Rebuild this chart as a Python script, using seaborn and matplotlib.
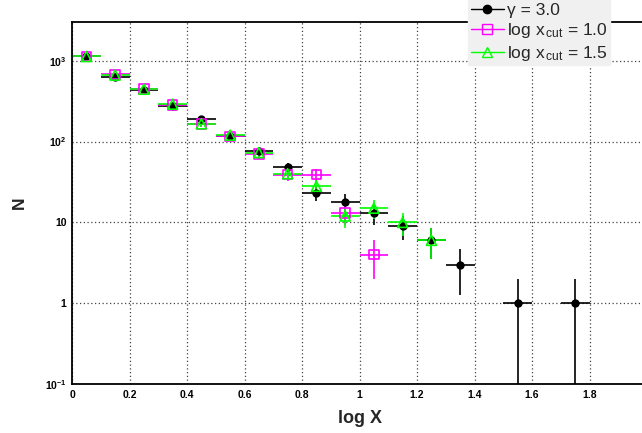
import numpy as np
import pandas as pd
import matplotlib
matplotlib.use("Agg")
import matplotlib.pyplot as plt
import seaborn as sns
from matplotlib.ticker import MultipleLocator, LogLocator, FixedLocator, FixedFormatter, NullFormatter
from matplotlib.lines import Line2D

# ---- data ----
x_gamma = [0.05, 0.15, 0.25, 0.35, 0.45, 0.55, 0.65, 0.75, 0.85, 0.95, 1.05, 1.15, 1.25, 1.35, 1.55, 1.75]
n_gamma = [1130, 635, 440, 275, 190, 116, 77, 48, 23, 18, 13, 9, 6, 3, 1, 1]

x_cut10 = [0.05, 0.15, 0.25, 0.35, 0.45, 0.55, 0.65, 0.75, 0.85, 0.95, 1.05]
n_cut10 = [1130, 680, 445, 285, 166, 116, 70, 39, 39, 13, 4]

x_cut15 = [0.05, 0.15, 0.25, 0.35, 0.45, 0.55, 0.65, 0.75, 0.85, 0.95, 1.05, 1.15, 1.25]
n_cut15 = [1130, 665, 445, 290, 166, 120, 73, 40, 28, 12, 15, 10, 6]

bin_half_width = 0.05
labels = ["γ = 3.0", "log x$_{\\,\\mathrm{cut}}$ = 1.0", "log x$_{\\,\\mathrm{cut}}$ = 1.5"]
y_tick_vals = [0.1, 1, 10, 100, 1000]
y_tick_labels = ["$\\mathbf{10^{-1}}$", "1", "10", "$\\mathbf{10^{2}}$", "$\\mathbf{10^{3}}$"]
x_tick_vals = [0, 0.2, 0.4, 0.6, 0.8, 1.0, 1.2, 1.4, 1.6, 1.8]
x_tick_labels = ["0", "0.2", "0.4", "0.6", "0.8", "1", "1.2", "1.4", "1.6", "1.8"]

sns.set_style("white")
plt.rcParams["font.family"] = ["Liberation Sans", "DejaVu Sans"]
plt.rcParams["mathtext.fontset"] = "custom"
plt.rcParams["mathtext.rm"] = "Liberation Sans"
plt.rcParams["mathtext.bf"] = "Liberation Sans:bold"
plt.rcParams["mathtext.it"] = "Liberation Sans:italic"
plt.rcParams["mathtext.sf"] = "Liberation Sans"

fig = plt.figure(figsize=(6.42, 4.33), dpi=100)
ax = fig.add_axes([72/642, 1-384/433, (642-72)/642, (384-22)/433])

series = [
    (x_gamma, n_gamma, "black", "o", "black", 36),
    (x_cut10, n_cut10, "#ff00ff", "s", "none", 46),
    (x_cut15, n_cut15, "#00ff00", "^", "none", 52),
]
for xs, ns, col, mk, fc, sz in series:
    ns_arr = np.array(ns, dtype=float)
    err = np.sqrt(ns_arr)
    lower = np.minimum(err, ns_arr * 0.999999)
    ax.errorbar(xs, ns, xerr=bin_half_width, yerr=[lower, err], fmt="none",
                ecolor=col, elinewidth=1.2, capsize=0, zorder=2)
for xs, ns, col, mk, fc, sz in series:
    df = pd.DataFrame({"x": xs, "n": ns})
    if fc == "none":
        sns.scatterplot(data=df, x="x", y="n", ax=ax, marker=mk, s=sz,
                        facecolors="none", edgecolor=col, linewidth=1.2, zorder=3)
    else:
        sns.scatterplot(data=df, x="x", y="n", ax=ax, marker=mk, s=sz,
                        color=col, edgecolor=col, linewidth=0, zorder=3)

ax.set_yscale("log")
ax.set_xlim(0, (642-72)/575*2)
ax.set_ylim(0.1, 3020)

ax.xaxis.set_minor_locator(MultipleLocator(0.05))
ax.set_xticks(x_tick_vals)
ax.set_xticklabels(x_tick_labels, fontsize=7.5, fontweight="bold")
ax.yaxis.set_major_locator(FixedLocator(y_tick_vals))
ax.yaxis.set_major_formatter(FixedFormatter(y_tick_labels))
ax.yaxis.set_minor_locator(LogLocator(base=10, subs=np.arange(2, 10)))
ax.yaxis.set_minor_formatter(NullFormatter())
for lab in ax.get_yticklabels():
    lab.set_fontsize(7.5)
    lab.set_fontweight("bold")

ax.tick_params(axis="both", which="major", direction="in", length=10, width=1, colors="black", pad=4)
ax.tick_params(axis="y", which="major", length=17)
ax.tick_params(axis="both", which="minor", direction="in", length=5, width=1, colors="black")
ax.tick_params(axis="y", which="minor", length=9)
ax.tick_params(top=False, right=False, which="both")

ax.grid(True, which="major", linestyle=(0, (1, 2)), color="#444444", linewidth=0.9)
for s in ["left", "bottom", "top"]:
    ax.spines[s].set_color("black")
    ax.spines[s].set_linewidth(1.3)
ax.spines["right"].set_visible(False)

ax.set_xlabel("log X", fontsize=13, fontweight="bold")
ax.xaxis.set_label_coords((359.5-72)/570, (384-410)/362)
ax.set_ylabel("N", fontsize=12.5, fontweight="bold")
ax.yaxis.set_label_coords((27-72)/570, (384-203)/362)

handles = [
    Line2D([], [], color="black", marker="o", markersize=6, markerfacecolor="black", lw=1),
    Line2D([], [], color="#ff00ff", marker="s", markersize=7, markerfacecolor="none", lw=1),
    Line2D([], [], color="#00ff00", marker="^", markersize=7, markerfacecolor="none", lw=1),
]
leg = fig.legend(handles, labels, loc="upper left", bbox_to_anchor=(468/642, 1.0),
                 frameon=True, fancybox=False, fontsize=12.5, handlelength=1.9,
                 handletextpad=0.2, labelspacing=0.2, borderpad=0.15, borderaxespad=0)
leg.get_frame().set_facecolor("#f0f0f0")
leg.get_frame().set_edgecolor("#f0f0f0")
leg.get_frame().set_alpha(1)

fig.savefig("out.png", dpi=100, facecolor="white")
